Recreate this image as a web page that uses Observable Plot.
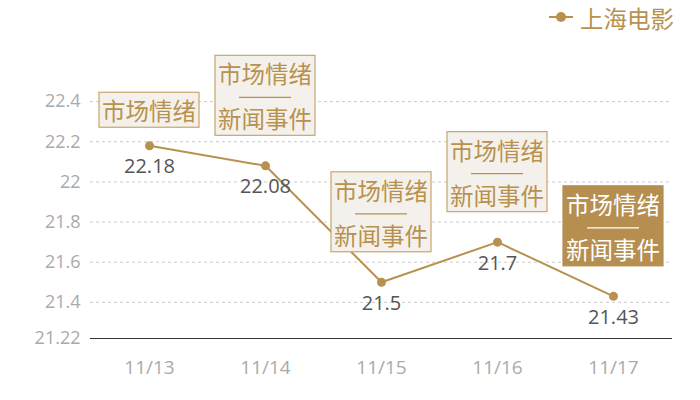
<!DOCTYPE html>
<html>
<head>
<meta charset="utf-8">
<script src="https://cdn.jsdelivr.net/npm/d3@7"></script>
<script src="https://cdn.jsdelivr.net/npm/@observablehq/plot@0.6"></script>
<style>
  body { margin: 0; background: #fff; }
  #chart { position: relative; width: 700px; height: 400px; }
  svg { font-family: "Noto Sans CJK SC", "Noto Sans", sans-serif; }
</style>
</head>
<body>
<div id="chart"></div>
<script>
const dates = ["11/13", "11/14", "11/15", "11/16", "11/17"];
const values = [22.18, 22.08, 21.5, 21.7, 21.43];
const yTicks = [21.22, 21.4, 21.6, 21.8, 22, 22.2, 22.4];
const seriesName = "上海电影";
const boxTop = ["市场情绪", "市场情绪", "市场情绪", "市场情绪", "市场情绪"];
const boxBottom = [null, "新闻事件", "新闻事件", "新闻事件", "新闻事件"];
const boxHighlight = [false, false, false, false, true];

const gold = "#b8914f";
const numFont = "Open Sans, Noto Sans, sans-serif";
const data = dates.map((d, i) => ({date: d, value: values[i]}));

function boxes(index, scales, values_, dimensions, context) {
  const svg = d3.create("svg:g");
  const font = "Noto Sans CJK SC, sans-serif";
  dates.forEach((d, i) => {
    const cx = scales.x(d);
    const cy = scales.y(values[i]);
    const multi = boxBottom[i] != null;
    const h = multi ? 80 : 35;
    const gap = multi ? 30 : 18;
    const w = 100;
    const top = cy - gap - h;
    const dark = boxHighlight[i];
    const fg = dark ? "#ffffff" : gold;
    svg.append("rect")
      .attr("x", cx - w / 2).attr("y", top)
      .attr("width", w).attr("height", h)
      .attr("fill", dark ? "#b58e50" : "#f4f1ec")
      .attr("stroke", dark ? "#b58e50" : "#c9a66c")
      .attr("stroke-width", 1.2);
    const t = (txt, y) => svg.append("text")
      .attr("x", cx).attr("y", y)
      .attr("text-anchor", "middle")
      .attr("dominant-baseline", "central")
      .attr("font-family", font)
      .attr("font-size", 23.5)
      .attr("fill", fg)
      .text(txt);
    if (multi) {
      t(boxTop[i], top + 18);
      svg.append("line")
        .attr("x1", cx - 26).attr("x2", cx + 26)
        .attr("y1", top + 42).attr("y2", top + 42)
        .attr("stroke", fg).attr("stroke-width", 1.3);
      t(boxBottom[i], top + 63);
    } else {
      t(boxTop[i], top + h / 2);
    }
  });
  // legend
  const lg = svg.append("g");
  lg.append("line").attr("x1", 549).attr("x2", 573).attr("y1", 17).attr("y2", 17)
    .attr("stroke", gold).attr("stroke-width", 2);
  lg.append("circle").attr("cx", 561).attr("cy", 17).attr("r", 5).attr("fill", gold);
  lg.append("text").attr("x", 580).attr("y", 18)
    .attr("text-anchor", "start")
    .attr("dominant-baseline", "central")
    .attr("font-family", font).attr("font-size", 23.5).attr("fill", gold)
    .text(seriesName);
  return svg.node();
}

const plot = Plot.plot({
  width: 700,
  height: 400,
  marginLeft: 90,
  marginRight: 28,
  marginTop: 81,
  marginBottom: 62,
  style: {fontFamily: "Noto Sans CJK SC, sans-serif", fontSize: "18px", background: "#fff"},
  x: {type: "point", domain: dates, padding: 0.5},
  y: {domain: [21.22, 22.5]},
  marks: [
    Plot.ruleY(yTicks.filter(t => t > 21.22), {stroke: "#cccccc", strokeDasharray: "3,3", strokeWidth: 1}),
    Plot.ruleY([21.22], {stroke: "#333333", strokeWidth: 1.2}),
    Plot.axisY({ticks: yTicks, tickSize: 0, tickPadding: 10, fontSize: 18, fontFamily: numFont, fill: "#aaaaaa", tickFormat: d => String(d), label: null}),
    Plot.axisX({tickSize: 0, tickPadding: 22, fontSize: 19, fontFamily: numFont, fill: "#aaaaaa", label: null}),
    Plot.line(data, {x: "date", y: "value", stroke: gold, strokeWidth: 2}),
    Plot.dot(data, {x: "date", y: "value", r: 4.5, fill: gold, stroke: "none"}),
    Plot.text(data, {x: "date", y: "value", text: d => String(d.value), dy: 21, fontSize: 20, fontFamily: numFont, fill: "#555555"}),
    boxes
  ]
});
document.getElementById("chart").appendChild(plot);
</script>
</body>
</html>
